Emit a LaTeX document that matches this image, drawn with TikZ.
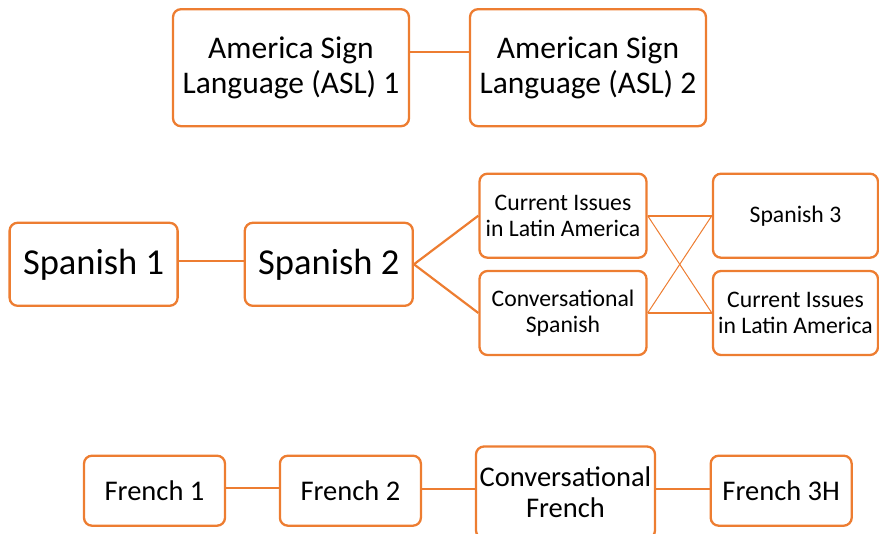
\documentclass[tikz,border=0pt]{standalone}
\usepackage{fontspec}
\setmainfont{Carlito}
\usetikzlibrary{shapes,arrows.meta,calc,positioning}
\definecolor{accent}{HTML}{ED7D31}
\tikzset{
    x=1pt,y=-1pt,semithick,
    course/.style ={rectangle, rounded corners=8pt, draw=accent, line width=2.3pt, align=center, inner sep=2pt, text=black},
    aslbox/.style = {course, minimum width=236pt, minimum height=117pt, font=\fontsize{31.5pt}{35pt}\selectfont},
    spanbox/.style = {course, minimum width=168pt, minimum height=83pt, font=\fontsize{36.5pt}{40pt}\selectfont},
    smallbox/.style = {course, minimum width=167pt, minimum height=84pt, font=\fontsize{23.7pt}{25.5pt}\selectfont},
    frbox/.style = {course, minimum width=141pt, minimum height=70pt, font=\fontsize{28.5pt}{31pt}\selectfont},
    link/.style = {draw=accent, line width=2.2pt},
    crossline/.style = {draw=accent, line width=1pt}
}

\begin{document}
\begin{tikzpicture}
    \useasboundingbox (0,0) rectangle (879,534);
    \node (asl1) at (291,67.7) [aslbox] {America Sign\\Language (ASL) 1};
    \node (asl2) at (588,67.7) [aslbox] {American Sign\\Language (ASL) 2};
		\node (sp1) at (93.6,264.3) [spanbox] {Spanish 1};
		\node (sp2) at (328.8,264.3) [spanbox] {Spanish 2};
		\node (cila) at (563,215.7) [smallbox] {Current Issues\\in Latin America};
		\node (csp) at (563,313) [smallbox] {Conversational\\Spanish};
		\node (sp3) at (795.5,215.7) [smallbox, minimum width=165pt] {Spanish 3};
		\node (cilb) at (795.5,313) [smallbox, minimum width=165pt] {Current Issues\\in Latin America};
    \node (fr1) at (154.5,490.7) [frbox] {French 1};
    \node (fr2) at (350.4,490.7) [frbox] {French 2};
    \node (cfr) at (565.5,492.5) [frbox, minimum width=179pt, minimum height=92pt] {Conversational\\French};
    \node (fr3) at (781.2,490.7) [frbox] {French 3H};

    \path[link] ([yshift=16pt]asl1.east) edge ([yshift=16pt]asl2.west);
		\path[link] ([yshift=3pt]sp1.east) edge ([yshift=3pt]sp2.west);
		\path[link] (sp2.east) edge (cila.west);
		\path[link] (sp2.east) edge (csp.west);
		\path[link] (cila.east) edge (sp3.west);
		\path[link] (csp.east) edge (cilb.west);
		\path[crossline] (cila.east) edge (cilb.west);
		\path[crossline] (csp.east) edge (sp3.west);
    \path[link] ([yshift=3pt]fr1.east) edge ([yshift=3pt]fr2.west);
    \path[link] ([yshift=2pt]fr2.east) edge ([yshift=2pt]fr2.east -| cfr.west);
    \path[link] ([yshift=2pt]cfr.east |- fr3.east) edge ([yshift=2pt]fr3.west);
\end{tikzpicture}
\end{document}
